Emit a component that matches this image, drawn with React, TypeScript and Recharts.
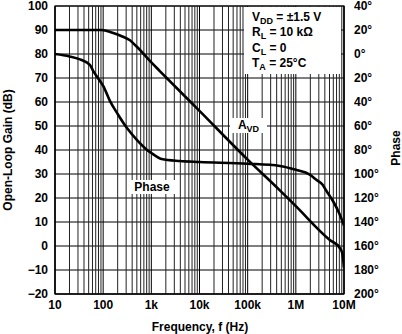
import React from 'react';
import {
  LineChart,
  Line,
  XAxis,
  YAxis,
  CartesianGrid,
  ReferenceLine,
  ReferenceArea,
} from 'recharts';

// frequency (Hz) / open-loop gain (dB)
const gainFreq = [10, 50, 93, 150, 250, 360, 500, 1000, 1500, 10000, 100000, 466000, 1000000, 5000000, 8100000, 9200000, 10000000];
const gainDb = [90, 90, 90, 89, 87.3, 85.7, 83, 76.5, 72.9, 56.3, 36, 23.2, 16.6, 2.6, -0.7, -3, -9];

// frequency (Hz) / phase (deg)
const phaseFreq = [10, 20, 33, 53, 62, 86, 100, 138, 200, 309, 500, 794, 1000, 1630, 3900, 10000, 100000, 466000, 1000000, 1950000, 2700000, 3600000, 4300000, 5900000, 8000000, 10000000];
const phaseDeg = [0, 2, 4.5, 9, 14, 22.5, 26.5, 39, 50, 61.5, 71.5, 79.5, 82.5, 87.5, 89.2, 90, 91.4, 93.3, 96.5, 100.5, 105, 109, 114, 122.5, 133, 143];

const freqTicks = [10, 100, 1000, 10000, 100000, 1000000, 10000000];
const freqLabels = ['10', '100', '1k', '10k', '100k', '1M', '10M'];
const gainTicks = [-20, -10, 0, 10, 20, 30, 40, 50, 60, 70, 80, 90, 100];
const phaseTicks = [-40, -20, 0, 20, 40, 60, 80, 100, 120, 140, 160, 180, 200];

const minorGrid: number[] = [];
for (let d = 10; d < 1e7; d *= 10) {
  for (let m = 2; m <= 9; m++) minorGrid.push(d * m);
}

const gainData = gainFreq.map((f, i) => ({ f, v: gainDb[i] }));
const phaseData = phaseFreq.map((f, i) => ({ f, v: phaseDeg[i] }));

const FONT = '"Liberation Sans", Arial, Helvetica, sans-serif';
const tickStyle = { fontFamily: FONT, fontSize: 12, fontWeight: 700, fill: '#000' };
const subStyle: React.CSSProperties = { fontSize: 9, verticalAlign: -3, lineHeight: 0 };

export default function App() {
  return (
    <div style={{ position: 'absolute', left: 0, top: 0, width: 402, height: 334, background: '#fff', fontFamily: FONT }}>
      <LineChart width={402} height={334} margin={{ top: 6, right: 0, bottom: 0, left: 0 }}>
        <CartesianGrid yAxisId="gain" stroke="#000" strokeWidth={1} />
        {minorGrid.map((v) => (
          <ReferenceLine key={v} x={v} yAxisId="gain" stroke="#222" strokeWidth={1} ifOverflow="hidden" />
        ))}
        <ReferenceArea x1={10} x2={1e7} y1={-20} y2={100} yAxisId="gain" fill="none" stroke="#000" strokeWidth={1.2} />
        <XAxis
          dataKey="f"
          type="number"
          scale="log"
          domain={[10, 1e7]}
          ticks={freqTicks}
          tickFormatter={(v: number) => freqLabels[freqTicks.indexOf(v)] ?? ''}
          allowDataOverflow
          height={40}
          tickLine={false}
          axisLine={{ stroke: '#000' }}
          tickSize={4}
          tickMargin={2}
          tick={tickStyle}
          interval={0}
        />
        <YAxis
          yAxisId="gain"
          domain={[-20, 100]}
          ticks={gainTicks}
          width={55}
          tickLine={false}
          axisLine={{ stroke: '#000' }}
          tickSize={5}
          tickMargin={2}
          tick={tickStyle}
          interval={0}
          tickFormatter={(v: number) => String(v).replace('-', '\u2212')}
        />
        <YAxis
          yAxisId="phase"
          orientation="right"
          domain={[-40, 200]}
          reversed
          ticks={phaseTicks}
          width={58}
          tickLine={false}
          axisLine={{ stroke: '#000' }}
          tickSize={5}
          tickMargin={5}
          tick={tickStyle}
          interval={0}
          tickFormatter={(v: number) => `${Math.abs(v)}\u00b0`}
        />
        <Line
          data={gainData}
          dataKey="v"
          yAxisId="gain"
          type="monotone"
          stroke="#000"
          strokeWidth={2.6}
          dot={false}
          isAnimationActive={false}
        />
        <Line
          data={phaseData}
          dataKey="v"
          yAxisId="phase"
          type="monotone"
          stroke="#000"
          strokeWidth={2.6}
          dot={false}
          isAnimationActive={false}
        />
      </LineChart>

      {/* axis titles */}
      <div style={{ position: 'absolute', left: 8, top: 150, transform: 'translate(-50%, -50%) rotate(-90deg)', whiteSpace: 'nowrap', fontSize: 12, fontWeight: 700 }}>
        Open-Loop Gain (dB)
      </div>
      <div style={{ position: 'absolute', left: 396, top: 148, transform: 'translate(-50%, -50%) rotate(-90deg)', whiteSpace: 'nowrap', fontSize: 12, fontWeight: 700 }}>
        Phase
      </div>
      <div style={{ position: 'absolute', left: 200, top: 327, transform: 'translate(-50%, -50%)', whiteSpace: 'nowrap', fontSize: 12, fontWeight: 700 }}>
        Frequency, f (Hz)
      </div>

      {/* conditions box */}
      <div style={{ position: 'absolute', left: 244, top: 7, width: 97, height: 67, background: '#fff', boxSizing: 'border-box', padding: '3px 0 0 8px', fontSize: 12, fontWeight: 700, lineHeight: '15.3px', whiteSpace: 'nowrap' }}>
        <div style={{ height: 15.3 }}>V<sub style={subStyle}>DD</sub> = ±1.5 V</div>
        <div style={{ height: 15.3 }}>R<sub style={subStyle}>L</sub> = 10 kΩ</div>
        <div style={{ height: 15.3 }}>C<sub style={subStyle}>L</sub> = 0</div>
        <div style={{ height: 15.3 }}>T<sub style={subStyle}>A</sub> = 25°C</div>
      </div>

      {/* curve labels */}
      <div style={{ position: 'absolute', left: 230, top: 118, width: 37, height: 15, textAlign: 'center', background: '#fff', fontSize: 12, fontWeight: 700, lineHeight: '14px', whiteSpace: 'nowrap' }}>
        A<sub style={subStyle}>VD</sub>
      </div>
      <div style={{ position: 'absolute', left: 127, top: 180, width: 50, height: 14, textAlign: 'center', background: '#fff', fontSize: 12, fontWeight: 700, lineHeight: '14px', whiteSpace: 'nowrap' }}>
        Phase
      </div>
    </div>
  );
}
